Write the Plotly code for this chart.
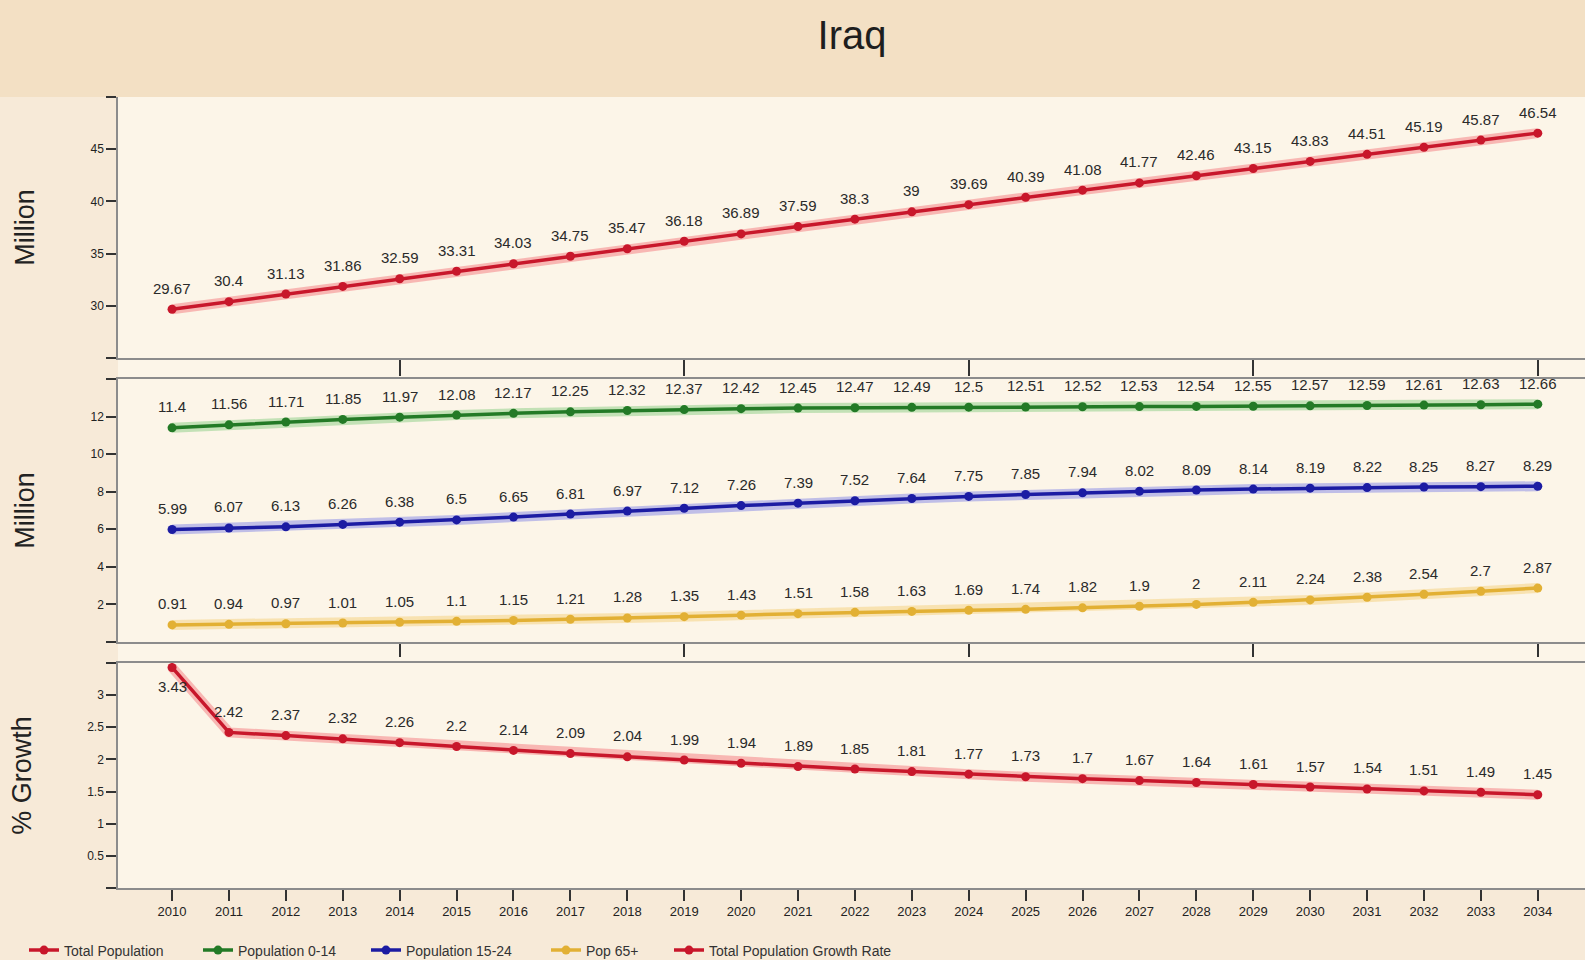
import plotly.graph_objects as go

years = list(range(2010, 2035))

total_population = [29.67, 30.4, 31.13, 31.86, 32.59, 33.31, 34.03, 34.75, 35.47, 36.18,
                    36.89, 37.59, 38.3, 39, 39.69, 40.39, 41.08, 41.77, 42.46, 43.15,
                    43.83, 44.51, 45.19, 45.87, 46.54]
pop_0_14 = [11.4, 11.56, 11.71, 11.85, 11.97, 12.08, 12.17, 12.25, 12.32, 12.37,
            12.42, 12.45, 12.47, 12.49, 12.5, 12.51, 12.52, 12.53, 12.54, 12.55,
            12.57, 12.59, 12.61, 12.63, 12.66]
pop_15_24 = [5.99, 6.07, 6.13, 6.26, 6.38, 6.5, 6.65, 6.81, 6.97, 7.12,
             7.26, 7.39, 7.52, 7.64, 7.75, 7.85, 7.94, 8.02, 8.09, 8.14,
             8.19, 8.22, 8.25, 8.27, 8.29]
pop_65_plus = [0.91, 0.94, 0.97, 1.01, 1.05, 1.1, 1.15, 1.21, 1.28, 1.35,
               1.43, 1.51, 1.58, 1.63, 1.69, 1.74, 1.82, 1.9, 2, 2.11,
               2.24, 2.38, 2.54, 2.7, 2.87]
growth_rate = [3.43, 2.42, 2.37, 2.32, 2.26, 2.2, 2.14, 2.09, 2.04, 1.99,
               1.94, 1.89, 1.85, 1.81, 1.77, 1.73, 1.7, 1.67, 1.64, 1.61,
               1.57, 1.54, 1.51, 1.49, 1.45]

series = [
    # name, values, xaxis, yaxis, core colour, halo colour, legend
    ("Total Population", total_population, "x", "y", "#c8172b", "rgba(240,70,80,0.35)", "legend"),
    ("Population 0-14", pop_0_14, "x2", "y2", "#237a26", "rgba(90,190,90,0.35)", "legend2"),
    ("Population 15-24", pop_15_24, "x2", "y2", "#1c1ca3", "rgba(80,90,230,0.35)", "legend3"),
    ("Pop 65+", pop_65_plus, "x2", "y2", "#e2b034", "rgba(245,205,110,0.45)", "legend4"),
    ("Total Population Growth Rate", growth_rate, "x3", "y3", "#c8172b", "rgba(240,70,80,0.35)", "legend5"),
]

FONT = "Liberation Sans, Arial, sans-serif"
NARROW = "Liberation Sans Narrow, Arial Narrow, Liberation Sans, Arial, sans-serif"

fig = go.Figure()
annotations = []
for name, vals, xa, ya, col, halo, lg in series:
    fig.add_trace(go.Scatter(x=years, y=vals, xaxis=xa, yaxis=ya, mode="lines",
                             line=dict(color=halo, width=10), hoverinfo="skip",
                             showlegend=False))
    fig.add_trace(go.Scatter(x=years, y=vals, xaxis=xa, yaxis=ya, mode="lines+markers",
                             name=name, legend=lg,
                             line=dict(color=col, width=3.5),
                             marker=dict(color=col, size=9)))
    for i, (yr, v) in enumerate(zip(years, vals)):
        shift = 21
        if name == "Total Population Growth Rate" and i == 0:
            shift = -19
        annotations.append(dict(x=yr, y=v, xref=xa, yref=ya, text=str(v), showarrow=False,
                                yshift=shift, yanchor="middle",
                                font=dict(family=NARROW, size=15, color="#2a2a2a")))

x_range = [2009.05, 2034.83]
axis_line = "#8c8c8c"
five_year = [2014, 2019, 2024, 2029, 2034]

common_x = dict(range=x_range, showgrid=False, zeroline=False, showline=True,
                linecolor=axis_line, linewidth=1.5, ticks="outside", tickcolor="#333",
                tickwidth=1.5)
common_y = dict(showgrid=False, zeroline=False, showline=True, linecolor=axis_line,
                linewidth=1.5, ticks="outside", ticklen=10, tickcolor="#333", tickwidth=2,
                tickfont=dict(family=NARROW, size=12, color="#222"),
                title=dict(font=dict(family=FONT, size=27, color="#222"), standoff=48))

legend_common = dict(orientation="h", y=-0.079, yanchor="middle", bgcolor="rgba(0,0,0,0)",
                     font=dict(family=NARROW, size=14, color="#333"), itemwidth=30)

fig.update_layout(
    width=1585, height=960,
    margin=dict(l=118, r=0, t=97, b=72, autoexpand=False),
    paper_bgcolor="#f7ead8",
    plot_bgcolor="#fdf7ec",
    title=dict(text="Iraq", x=852 / 1585, xanchor="center", xref="container",
               y=1 - 35 / 960, yanchor="middle", yref="container",
               font=dict(family=FONT, size=40, color="#1e1e1e")),
    xaxis=dict(common_x, anchor="y", domain=[0, 1], tickvals=five_year,
               showticklabels=False, ticklen=16),
    yaxis=dict(common_y, anchor="x", domain=[0.670, 1.0], range=[25, 50],
               tickvals=[25, 30, 35, 40, 45, 50], ticktext=["", "30", "35", "40", "45", ""],
               title_text="Million"),
    xaxis2=dict(common_x, anchor="y2", domain=[0, 1], tickvals=five_year,
                showticklabels=False, ticklen=13, mirror=True),
    yaxis2=dict(common_y, anchor="x2", domain=[0.311, 0.6435], range=[0, 14],
                tickvals=[0, 2, 4, 6, 8, 10, 12, 14], ticktext=["", "2", "4", "6", "8", "10", "12", ""],
                title_text="Million"),
    xaxis3=dict(common_x, anchor="y3", domain=[0, 1], tickvals=years,
                ticktext=[str(y) for y in years], ticklen=11, mirror=True,
                tickfont=dict(family=NARROW, size=13, color="#222")),
    yaxis3=dict(common_y, anchor="x3", domain=[0, 0.2845], range=[0, 3.5],
                tickvals=[0, 0.5, 1, 1.5, 2, 2.5, 3, 3.5],
                ticktext=["", "0.5", "1", "1.5", "2", "2.5", "3", ""],
                title_text="% Growth"),
    legend=dict(legend_common, x=(69 - 45 - 118) / 1467),
    legend2=dict(legend_common, x=(243 - 45 - 118) / 1467),
    legend3=dict(legend_common, x=(411 - 45 - 118) / 1467),
    legend4=dict(legend_common, x=(591 - 45 - 118) / 1467),
    legend5=dict(legend_common, x=(714 - 45 - 118) / 1467),
    annotations=annotations,
    shapes=[
        dict(type="rect", xref="paper", yref="paper", x0=-118 / 1467, x1=1,
             y0=1, y1=1 + 97 / 791, fillcolor="#f3e0c4", line=dict(width=0), layer="below"),
        dict(type="rect", xref="paper", yref="paper", x0=0, x1=1, y0=0, y1=1,
             fillcolor="#fcf5e8", line=dict(width=0), layer="below"),
    ],
)

fig.write_html("out.html", config={"displayModeBar": False},
               post_script="document.body.style.margin='0';")
